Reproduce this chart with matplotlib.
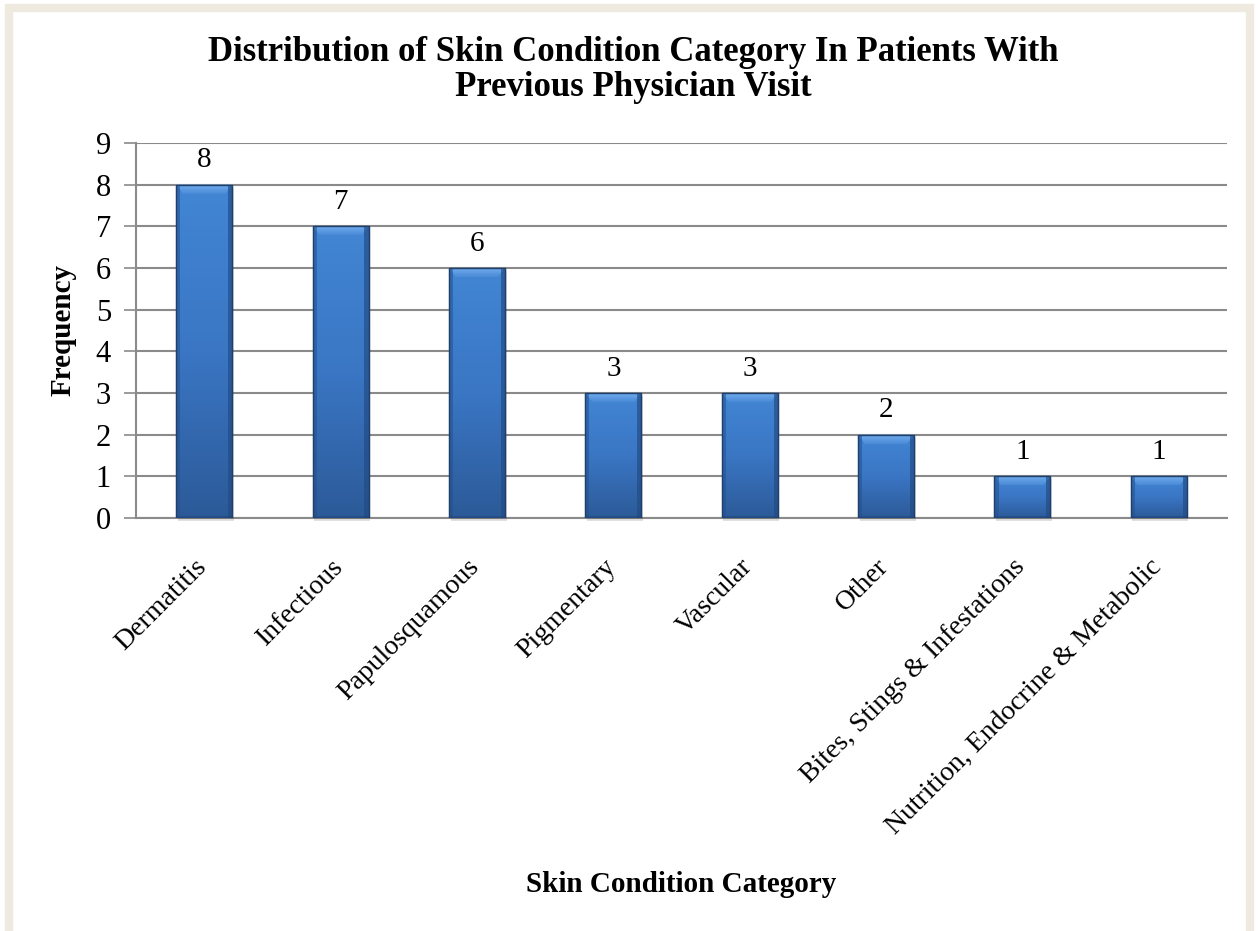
import matplotlib
matplotlib.use("Agg")
import matplotlib.pyplot as plt
import matplotlib.transforms as mtransforms
import numpy as np
from matplotlib.patches import Rectangle
from matplotlib.colors import LinearSegmentedColormap

categories = ["Dermatitis", "Infectious", "Papulosquamous", "Pigmentary",
              "Vascular", "Other", "Bites, Stings & Infestations",
              "Nutrition, Endocrine & Metabolic"]
frequency = [8, 7, 6, 3, 3, 2, 1, 1]
y_ticks = list(range(0, 10))

title = "Distribution of Skin Condition Category In Patients With\nPrevious Physician Visit"
x_title = "Skin Condition Category"
y_title = "Frequency"

plt.rcParams['font.family'] = ['Liberation Serif', 'DejaVu Serif']

W, H = 1259, 931
fig = plt.figure(figsize=(W / 100, H / 100), dpi=100)
fig.patch.set_facecolor("white")

# beige frame around the chart area
frame = Rectangle((9 / W, -0.05), (1250 - 9) / W, 1.05 - 8 / H,
                  transform=fig.transFigure, facecolor="none",
                  edgecolor="#eeeae0", linewidth=6, zorder=-5)
fig.patches.append(frame)

ax = fig.add_axes([136 / W, 1 - 518 / H, (1227 - 136) / W, (518 - 143) / H])
ax.set_facecolor("none")

x = np.arange(len(categories))
bar_w = 0.41
bars = ax.bar(x, frequency, width=bar_w, color="#3a74c0",
              edgecolor="#24497a", linewidth=0.8, zorder=3)

# vertical gradient and bevel on each bar
grad = LinearSegmentedColormap.from_list("g", ["#2c5a98", "#3a76c4", "#4286d4"])
bevel = LinearSegmentedColormap.from_list("b", ["#4a8ad6", "#74b0f0"])
for b, v in zip(bars, frequency):
    x0 = b.get_x()
    w = b.get_width()
    img = np.linspace(0, 1, 256).reshape(-1, 1)
    im = ax.imshow(img, cmap=grad, aspect="auto", origin="lower",
                   extent=(x0, x0 + w, 0, v), zorder=3.5, interpolation="bicubic")
    im.set_clip_path(b)
    # top bevel
    top = plt.Polygon([(x0, v), (x0 + w, v), (x0 + w - 0.05, v - 0.22),
                       (x0 + 0.05, v - 0.22)], closed=True,
                      facecolor="none", edgecolor="none", zorder=3.6)
    ax.add_patch(top)
    bim = ax.imshow(np.linspace(0, 1, 64).reshape(-1, 1), cmap=bevel,
                    aspect="auto", origin="lower",
                    extent=(x0, x0 + w, v - 0.22, v), zorder=3.6,
                    interpolation="bicubic")
    bim.set_clip_path(top)
    # side shading
    ax.add_patch(Rectangle((x0, 0), 0.03, v, facecolor="#24508c",
                           edgecolor="none", alpha=0.55, zorder=3.6))
    ax.add_patch(Rectangle((x0 + w - 0.03, 0), 0.03, v, facecolor="#214a82",
                           edgecolor="none", alpha=0.65, zorder=3.6))
    ax.add_patch(Rectangle((x0, 0), w, 0.06, facecolor="#1f4578",
                           edgecolor="none", alpha=0.5, zorder=3.6))
    ax.add_patch(Rectangle((x0, 0), w, v, facecolor="none",
                           edgecolor="#1f3f6c", linewidth=1.0, zorder=3.7))
    # soft shadow
    ax.add_patch(Rectangle((x0 + 0.012, -0.07), w, v, facecolor="#000000",
                           edgecolor="none", alpha=0.12, zorder=2.9,
                           clip_on=False))
    ax.text(x0 + w / 2, v + 0.27, str(v), ha="center", va="bottom",
            fontsize=21, color="black", zorder=5)

ax.set_xlim(-0.5, len(categories) - 0.5)
ax.set_ylim(0, 9)
ax.set_yticks(y_ticks)
ax.set_yticklabels([str(t) for t in y_ticks], fontsize=22)
ax.yaxis.grid(True, color="#8a8a8a", linewidth=1.5, zorder=1)
ax.set_axisbelow(True)
ax.tick_params(axis="y", length=9, width=1.2, color="#8a8a8a", pad=9)
ax.tick_params(axis="x", length=0, pad=26)
ax.set_xticks(x)
ax.set_xticklabels(categories, rotation=45, ha="right", va="top",
                   rotation_mode="anchor", fontsize=20)
shift = mtransforms.ScaledTranslation(-0.10, 0, fig.dpi_scale_trans)
for lab in ax.get_xticklabels():
    lab.set_transform(lab.get_transform() + shift)
for s in ["top", "right"]:
    ax.spines[s].set_visible(False)
ax.spines["left"].set_color("#8a8a8a")
ax.spines["left"].set_linewidth(1.5)
ax.spines["bottom"].set_color("#8a8a8a")
ax.spines["bottom"].set_linewidth(1.5)

fig.text(633 / W, 1 - 70 / H, title, ha="center", va="center",
         fontsize=25, fontweight="bold", linespacing=1.1)
fig.text(63 / W, 1 - 330 / H, y_title, ha="center", va="center",
         rotation=90, fontsize=21, fontweight="bold")
fig.text(681 / W, 1 - 885 / H, x_title, ha="center", va="center",
         fontsize=21, fontweight="bold")

fig.savefig("out.png", dpi=100, facecolor="white")
